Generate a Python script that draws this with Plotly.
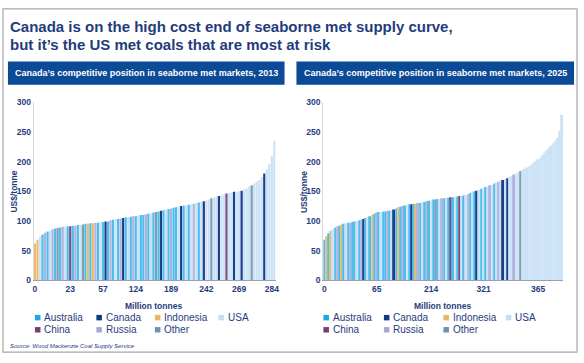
import plotly.graph_objects as go

W, H = 584, 363

# ---------------- data ----------------
countries = ["Australia", "Canada", "Indonesia", "USA", "China", "Russia", "Other"]
codes = ["AU", "CA", "ID", "US", "CN", "RU", "OT"]
legend_colors = ["#1CA9E1", "#0E3A85", "#E8B66B", "#C5DDF3", "#74406F", "#A8A8D6", "#6E93AB"]
bar_colors = ["#4DBDEB", "#1B3F8A", "#EDBB6E", "#CBE2F6", "#7A4E7C", "#B2B2DE", "#7E9DB3"]

cost_2013 = [62, 68, 74, 77, 80, 82, 84, 86, 87, 88,
             89, 90, 90, 91, 91, 92, 92, 93, 93, 94,
             95, 95, 96, 96, 97, 97, 98, 98, 99, 99,
             101, 102, 103, 103, 104, 105, 106, 106, 107, 108,
             108, 109, 110, 110, 111, 112, 113, 114, 115, 116,
             117, 118, 119, 120, 121, 122, 123, 124, 125, 126,
             126, 127, 128, 129, 130, 131, 132, 133, 135, 136,
             138, 139, 141, 142, 143, 145, 146, 147, 148, 149,
             149, 150, 151, 153, 155, 158, 160, 163, 166, 169,
             174, 180, 187, 196, 210, 235]
country_2013 = ["ID", "ID", "US", "AU", "RU", "AU", "US", "RU", "AU", "OT",
                "AU", "RU", "US", "AU", "CN", "AU", "RU", "AU", "US", "OT",
                "AU", "ID", "AU", "ID", "RU", "AU", "US", "AU", "CA", "AU",
                "RU", "AU", "US", "AU", "RU", "CA", "AU", "US", "AU", "RU",
                "AU", "US", "AU", "AU", "RU", "AU", "US", "AU", "OT", "AU",
                "CA", "AU", "US", "AU", "RU", "AU", "AU", "US", "CA", "AU",
                "US", "AU", "US", "RU", "US", "AU", "US", "CA", "US", "US",
                "OT", "US", "US", "CA", "US", "US", "CN", "US", "US", "CA",
                "US", "US", "CA", "US", "US", "US", "OT", "US", "US", "US",
                "US", "CA", "US", "US", "US", "US"]
ticks_2013 = ["0", "23", "57", "124", "189", "242", "269", "284"]

cost_2025 = [68, 74, 79, 83, 86, 89, 91, 92, 94, 95,
             96, 97, 97, 98, 99, 100, 101, 102, 103, 105,
             106, 108, 110, 112, 114, 115, 115, 116, 116, 117,
             117, 118, 119, 121, 123, 124, 125, 126, 127, 128,
             128, 129, 129, 130, 130, 131, 132, 133, 134, 135,
             136, 136, 137, 137, 138, 138, 139, 139, 140, 140,
             141, 141, 142, 142, 143, 144, 145, 147, 149, 150,
             151, 152, 154, 155, 157, 158, 160, 161, 163, 165,
             166, 168, 169, 171, 172, 174, 176, 178, 180, 182,
             184, 186, 188, 190, 192, 195, 198, 201, 204, 207,
             211, 215, 219, 223, 227, 231, 235, 240, 252, 279]
country_2025 = ["AU", "ID", "AU", "ID", "US", "AU", "RU", "AU", "ID", "AU",
                "US", "AU", "RU", "AU", "AU", "US", "AU", "RU", "CA", "AU",
                "US", "AU", "ID", "AU", "RU", "AU", "US", "AU", "AU", "RU",
                "AU", "US", "CA", "AU", "ID", "AU", "RU", "AU", "US", "AU",
                "CA", "AU", "ID", "RU", "AU", "US", "AU", "RU", "AU", "US",
                "AU", "OT", "AU", "US", "RU", "AU", "US", "AU", "CN", "AU",
                "US", "AU", "CN", "US", "AU", "US", "RU", "AU", "US", "AU",
                "CA", "US", "AU", "US", "AU", "US", "RU", "US", "AU", "US",
                "RU", "US", "CA", "US", "CA", "US", "US", "RU", "US", "US",
                "OT", "US", "US", "US", "US", "US", "US", "US", "US", "US",
                "US", "US", "US", "US", "US", "US", "US", "US", "US", "US"]
ticks_2025 = ["0", "65", "214", "321", "365"]

title_lines = ["Canada is on the high cost end of seaborne met supply curve,",
               "but it\u2019s the US met coals that are most at risk"]
panel_titles = ["Canada\u2019s competitive position in seaborne met markets, 2013",
                "Canada\u2019s competitive position in seaborne met markets, 2025"]
y_title = "US$/tonne"
x_title = "Million tonnes"
source = "Source: Wood Mackenzie Coal Supply Service"

# ---------------- helpers ----------------
NAVY = "#1F3C7D"
FONT = "Arial, Liberation Sans, sans-serif"


def px(x):
    return x / W


def py(y):
    return 1 - y / H


color_of = dict(zip(codes, bar_colors))

fig = go.Figure()

panels = [
    dict(cost=cost_2013, ctry=country_2013, ticks=ticks_2013, step=13.5,
         x0=33, x1=277, xa="x", ya="y", hx0=7, hx1=286,
         legx=[37, 99, 158, 222]),
    dict(cost=cost_2025, ctry=country_2025, ticks=ticks_2025, step=24.4,
         x0=325, x1=567, xa="x2", ya="y2", hx0=298, hx1=578,
         legx=[328, 389, 449, 512]),
]

shapes = []
annotations = []

# outer border
shapes.append(dict(type="rect", xref="paper", yref="paper",
                   x0=px(2), x1=px(581), y0=py(357), y1=py(4),
                   line=dict(color="#A6A6A6", width=1.2), fillcolor="rgba(0,0,0,0)"))

for k, line in enumerate(title_lines):
    annotations.append(dict(text="<b>%s</b>" % line, xref="paper", yref="paper",
                            x=px(7), y=py(22 + 19 * k), xanchor="left", yanchor="middle",
                            showarrow=False, font=dict(family=FONT, size=15, color=NAVY)))

annotations.append(dict(text="<i>%s</i>" % source, xref="paper", yref="paper",
                        x=px(7), y=py(351), xanchor="left", yanchor="middle",
                        showarrow=False, font=dict(family=FONT, size=6, color=NAVY)))

for p_i, p in enumerate(panels):
    n = len(p["cost"])
    xs = list(range(n))
    fig.add_trace(go.Bar(
        x=xs, y=p["cost"], xaxis=p["xa"], yaxis=p["ya"],
        marker=dict(color=[color_of[c] for c in p["ctry"]], line=dict(width=0)),
        showlegend=False, hoverinfo="y"))

    axis_suffix = "" if p_i == 0 else "2"
    tickvals = [round(k * p["step"]) for k in range(len(p["ticks"]))]
    fig.update_layout(**{
        "xaxis" + axis_suffix: dict(
            domain=[px(p["x0"]), px(p["x1"])], anchor="y" + axis_suffix,
            range=[-0.5, n - 0.5], tickmode="array", tickvals=tickvals,
            ticktext=p["ticks"], showgrid=False, zeroline=False,
            showline=True, linecolor="#9C9CB4", linewidth=1.3, ticks="",
            tickfont=dict(family=FONT, size=8.5, color=NAVY, weight="bold"),
            fixedrange=True),
        "yaxis" + axis_suffix: dict(
            domain=[py(283), py(100)], anchor="x" + axis_suffix,
            range=[0, 300], dtick=50, showgrid=False, zeroline=False,
            showline=True, linecolor="#D9D9D9", linewidth=1, ticks="",
            tickfont=dict(family=FONT, size=8.5, color=NAVY, weight="bold"),
            fixedrange=True),
    })

    # panel header
    shapes.append(dict(type="rect", xref="paper", yref="paper",
                       x0=px(p["hx0"]), x1=px(p["hx1"]), y0=py(82), y1=py(58),
                       line=dict(width=0), fillcolor="#0B4A96"))
    annotations.append(dict(text="<b>%s</b>" % panel_titles[p_i], xref="paper", yref="paper",
                            x=px((p["hx0"] + p["hx1"]) / 2), y=py(70),
                            xanchor="center", yanchor="middle", showarrow=False,
                            font=dict(family=FONT, size=9, color="white")))

    # axis titles
    annotations.append(dict(text="<b>%s</b>" % y_title, xref="paper", yref="paper",
                            x=px(p["x0"] - 20), y=py(192), textangle=-90,
                            xanchor="center", yanchor="middle", showarrow=False,
                            font=dict(family=FONT, size=8.5, color=NAVY)))
    annotations.append(dict(text="<b>%s</b>" % x_title, xref="paper", yref="paper",
                            x=px((p["x0"] + p["x1"]) / 2 - 1), y=py(310),
                            xanchor="center", yanchor="middle", showarrow=False,
                            font=dict(family=FONT, size=8.5, color=NAVY)))

    # legend (two rows)
    for j, name in enumerate(countries):
        row, col = (0, j) if j < 4 else (1, j - 4)
        cx = p["legx"][col]
        cy = 321.5 + 12.5 * row
        shapes.append(dict(type="rect", xref="paper", yref="paper",
                           x0=px(cx - 2.8), x1=px(cx + 2.8), y0=py(cy + 2.8), y1=py(cy - 2.8),
                           line=dict(width=0), fillcolor=legend_colors[j]))
        annotations.append(dict(text=name, xref="paper", yref="paper",
                                x=px(cx + 4.5), y=py(cy), xanchor="left", yanchor="middle",
                                showarrow=False,
                                font=dict(family=FONT, size=10, color=NAVY)))

fig.update_layout(
    width=W, height=H, autosize=False,
    margin=dict(l=0, r=0, t=0, b=0, pad=0),
    paper_bgcolor="white", plot_bgcolor="white",
    bargap=0.12, barmode="overlay",
    shapes=shapes, annotations=annotations,
    showlegend=False,
)

fig.write_html("out.html",
               config={"displayModeBar": False},
               post_script="document.body.style.margin='0';document.body.style.padding='0';")
